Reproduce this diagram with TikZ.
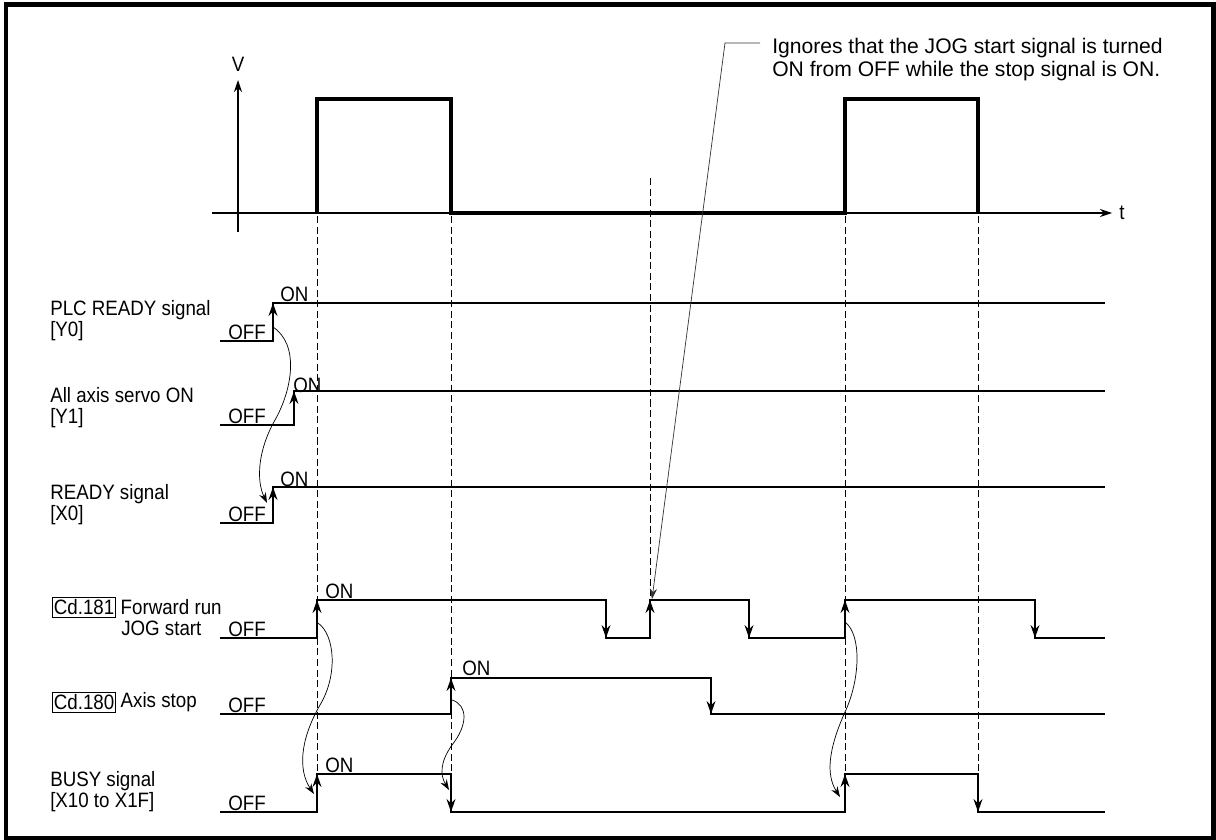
\documentclass[tikz,border=0pt]{standalone}
\usepackage{fontspec}
\setmainfont{Liberation Sans}
\newfontfamily\labelfont{Liberation Sans}[FakeStretch=0.9]
\usetikzlibrary{positioning,arrows.meta}

\begin{document}
\begin{tikzpicture}[
  x=0.025cm, y=-0.025cm,
  font={\labelfont\fontsize{14.8}{15}\selectfont},
  frame/.style={line width=3.2pt},
  axis/.style={-{Stealth[length=3mm,width=2mm]}, line width=0.9pt},
  vel/.style={line width=2.8pt, line join=miter},
  sig/.style={line width=1.4pt},
  edgearr/.style={-{Stealth[length=3.2mm,width=2.2mm]}, line width=1.4pt},
  guide/.style={dash pattern=on 5pt off 2.5pt, line width=0.6pt},
  cause/.style={-{Stealth[length=2.6mm,width=1.8mm]}, line width=0.5pt},
  leader/.style={-{Stealth[length=2.6mm,width=1.8mm]}, line width=0.5pt, black!80},
  lbl/.style={anchor=west, align=left, inner sep=0pt},
  lvl/.style={anchor=base west, inner sep=0pt},
  cdbox/.style={draw, line width=0.7pt, inner xsep=1pt, inner ysep=1.5pt, anchor=west}
]
\useasboundingbox (0,0) rectangle (1216,840);

% --- Frame ---
\draw[frame] (6,4.5) rectangle (1213.5,838);

% --- Speed axes and pulses ---
\node (vlbl) at (238,64) {V};
\node[anchor=west, inner sep=0pt] (tlbl) at (1119,213) {t};
\draw[axis] (238,232) -- (238,80);
\draw[axis] (212,213) -- (1112,213);
\draw[vel] (317,213) -- (317,99) -- (451,99) -- (451,213) -- (845,213)
  -- (845,99) -- (978,99) -- (978,213);

% --- Dashed guides ---
\foreach \x in {317,451,845,978}
  \draw[guide] (\x,216) -- (\x,774);
\draw[guide] (650,178) -- (650,600);

% --- Signal names ---
\node[lbl] (plc) at (50,320.5) {PLC READY signal\\{}[Y0]};
\node[lbl] (servo) at (50,408) {All axis servo ON\\{}[Y1]};
\node[lbl] (rdy) at (50,505) {READY signal\\{}[X0]};
\node[cdbox] (cd181) at (52,607.5) {Cd.181};
\node[lbl, right=3pt of cd181] (fwd) {Forward run};
\node[lbl] (jog) at (121,628) {JOG start};
\node[cdbox] (cd180) at (52,702.5) {Cd.180};
\node[lbl, right=3pt of cd180] (stop) {Axis stop};
\node[lbl] (busy) at (50,792) {BUSY signal\\{}[X10 to X1F]};

% --- ON / OFF levels ---
\foreach \x/\y/\t [count=\i] in {228/339/OFF, 280/301/ON, 228/423/OFF, 293/392/ON,
    228/521/OFF, 280/486/ON, 228/636/OFF, 325/598/ON, 228/712/OFF, 462/675/ON,
    228/810/OFF, 325/772/ON}
  \node[lvl] (lv\i) at (\x,\y) {\t};

% --- Waveforms ---
\draw[sig] (220,341) -| (273,303) -- (1105,303);
\draw[sig] (220,425) -| (294,391) -- (1105,391);
\draw[sig] (220,523) -| (273,487) -- (1105,487);
\draw[sig] (220,638) -| (317,600) -| (606,638) -| (650,600) -| (749,638)
  -| (845,600) -| (1035,638) -- (1105,638);
\draw[sig] (220,714) -| (451,678) -| (711,714) -- (1105,714);
\draw[sig] (220,812) -| (317,774) -| (451,812) -| (845,774) -| (978,812) -- (1105,812);

% --- Edge arrows ---
\foreach \x/\a/\b in {273/341/303, 294/425/391, 273/523/487,
    317/638/600, 606/600/638, 650/638/600, 749/600/638, 845/638/600, 1035/600/638,
    451/714/678, 711/678/714,
    317/812/774, 451/774/812, 845/812/774, 978/774/812}
  \draw[edgearr] (\x,\a) -- (\x,\b);

% --- Cause arrows ---
\coordinate (plcup) at (273,327);
\coordinate (rdyup) at (267,503);
\coordinate (fwdup) at (318,623);
\coordinate (busyup) at (314,794);
\coordinate (stopup) at (452,700);
\coordinate (busydn) at (449,790);
\coordinate (fwdup2) at (845,622);
\coordinate (busyup2) at (840,797);
\draw[cause] (plcup) .. controls (300,345) and (292,390) .. (275,420)
  .. controls (258,450) and (256,480) .. (rdyup);
\draw[cause] (fwdup) .. controls (335,635) and (338,675) .. (320,705)
  .. controls (300,740) and (298,770) .. (busyup);
\draw[cause] (stopup) .. controls (468,705) and (468,725) .. (452,745)
  .. controls (440,762) and (440,775) .. (busydn);
\draw[cause] (fwdup2) .. controls (862,635) and (860,680) .. (845,712)
  .. controls (828,750) and (826,775) .. (busyup2);

% --- Note ---
\node[lbl, font={\rmfamily\fontsize{15}{16.4}\selectfont}] (note) at (772,59.5)
  {Ignores that the JOG start signal is turned\\ON from OFF while the stop signal is ON.};
\coordinate (bend) at (725,43);
\coordinate (jogagain) at (652,599);
\draw[leader] (760,43) -- (bend) -- (jogagain);

\end{tikzpicture}
\end{document}
